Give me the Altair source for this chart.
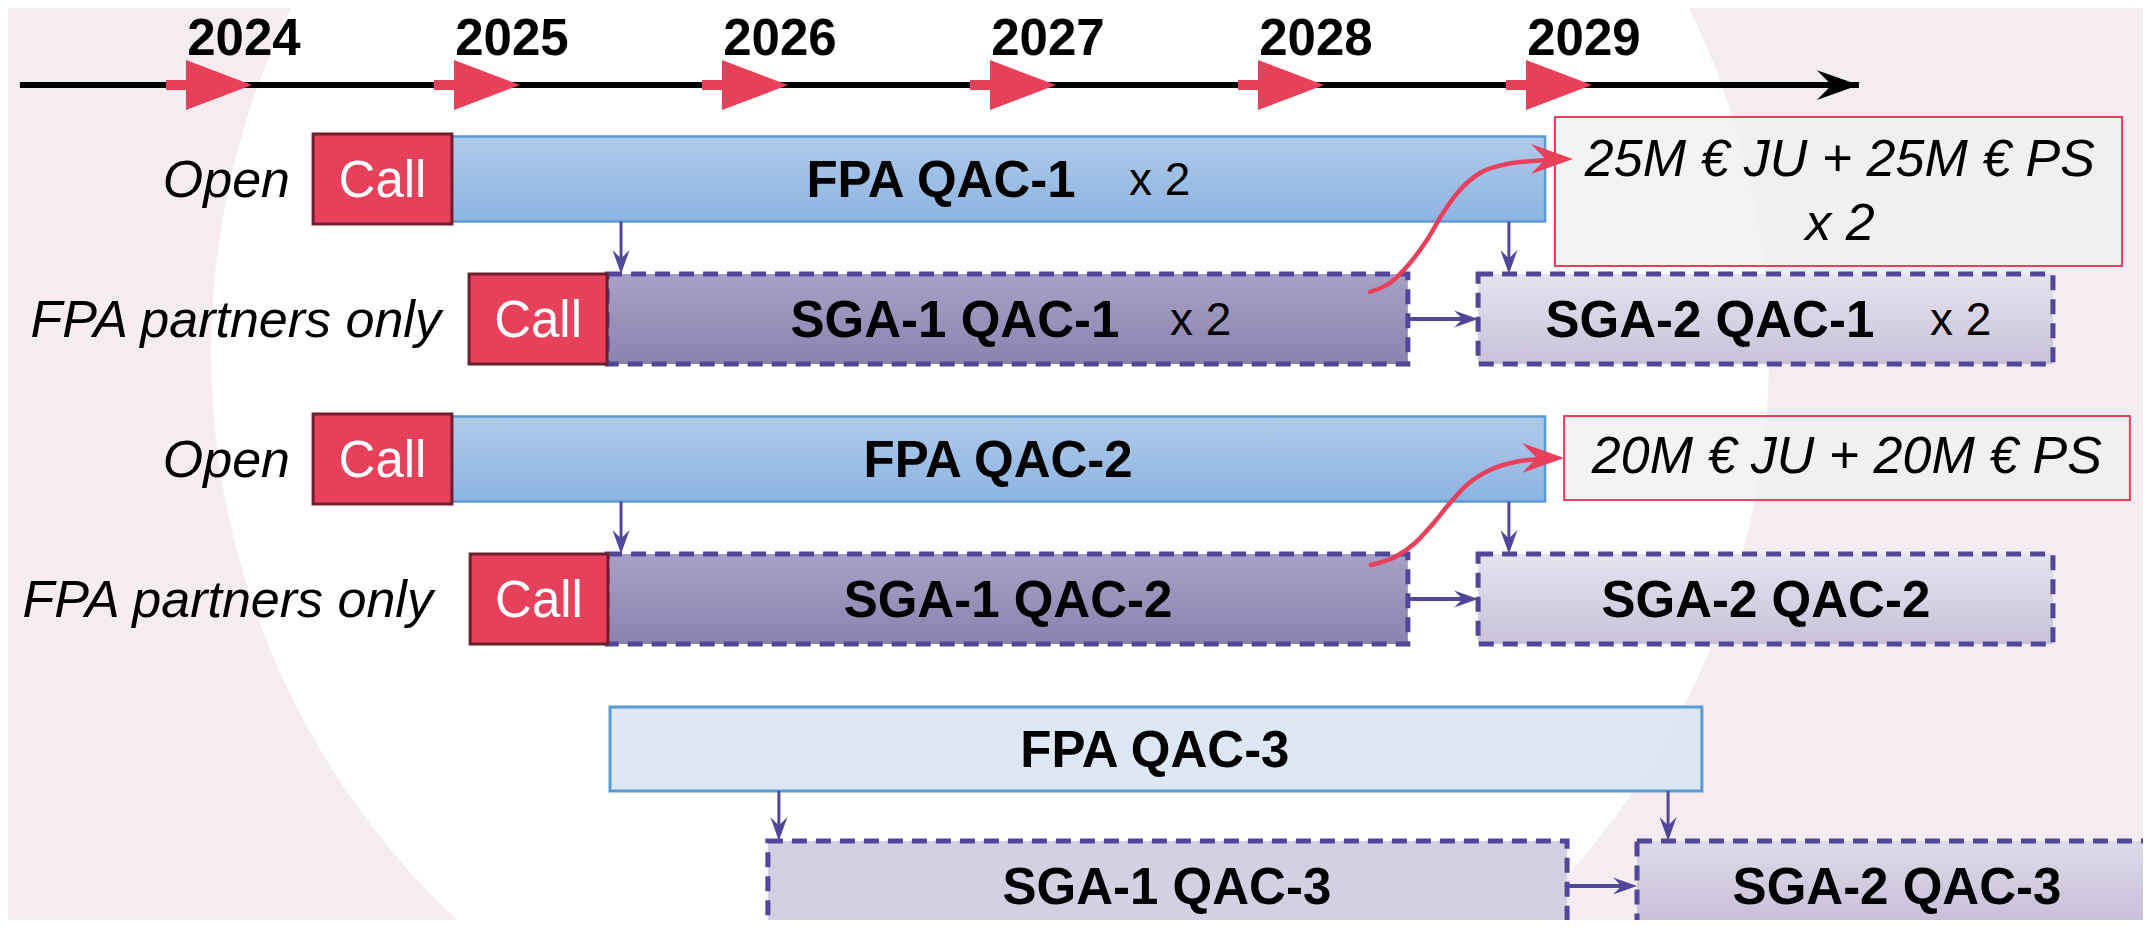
import altair as alt
import pandas as pd

# ---------------- chart frame ----------------
W, H = 2135, 912
X_DOMAIN = [2023.0896, 2031.056]   # time axis (years)
Y_DOMAIN = [-0.2214, 6.2929]       # lanes (row index, top to bottom)
FONT = "Liberation Sans"

BG = "#F5ECF1"
RED = "#E8405A"
PURPLE = "#51479A"
BLUE_EDGE = "#5B9BD5"

# ---------------- data ----------------
years = [2024, 2025, 2026, 2027, 2028, 2029]
year_labels = ["2024", "2025", "2026", "2027", "2028", "2029"]
timeline_start = [2023.134]
timeline_end = [2029.996]
timeline_row = [0.329]
year_label_row = 0.093

# "Call" boxes
call_start = [2024.228, 2024.810, 2024.228, 2024.814]
call_end = [2024.746, 2025.325, 2024.746, 2025.328]
call_row = [1.0, 2.0, 3.0, 4.0]

# lane descriptions
lane_labels = ["Open", "FPA partners only", "Open", "FPA partners only"]
lane_label_x = [2024.142, 2024.705, 2024.142, 2024.675]
lane_label_row = [1.0, 2.0, 3.0, 4.0]

# FPA (open) boxes
fpa_start = [2024.746, 2024.746]
fpa_end = [2028.825, 2028.825]
fpa_row = [1.0, 3.0]

# SGA-1 boxes
sga1_start = [2025.325, 2025.325]
sga1_end = [2028.313, 2028.313]
sga1_row = [2.0, 4.0]

# SGA-2 boxes
sga2_start = [2028.575, 2028.575]
sga2_end = [2030.720, 2030.720]
sga2_row = [2.0, 4.0]

# QAC-3 boxes
fpa3_start, fpa3_end, fpa3_row = [2025.336], [2029.410], [5.071]
sga13_start, sga13_end, sga13_row = [2025.925], [2028.907], [6.05]
sga23_start, sga23_end, sga23_row = [2029.168], [2031.10], [6.05]

# budget boxes
amount_start = [2028.862, 2028.896]
amount_end = [2030.978, 2031.007]
amount_row = [1.089, 2.993]
amount_half = [0.532, 0.30]

amount_lines = ["25M € JU + 25M € PS", "x 2", "20M € JU + 20M € PS"]
amount_x = [2029.925, 2029.925, 2029.951]
amount_line_row = [0.846, 1.303, 2.97]

# box titles
box_labels = ["FPA QAC-1", "SGA-1 QAC-1", "SGA-2 QAC-1", "FPA QAC-2", "SGA-1 QAC-2",
              "SGA-2 QAC-2", "FPA QAC-3", "SGA-1 QAC-3", "SGA-2 QAC-3"]
box_label_x = [2026.571, 2026.623, 2029.440, 2026.784, 2026.821,
               2029.649, 2027.369, 2027.414, 2030.138]
box_label_row = [1.0, 2.0, 2.0, 3.0, 4.0, 4.0, 5.071, 6.05, 6.05]

times_labels = ["x 2", "x 2", "x 2"]
times_x = [2027.272, 2027.425, 2030.261]
times_row = [1.0, 2.0, 2.0]

# vertical connectors (FPA -> SGA)
v_arrow_x = [2025.377, 2028.690, 2025.377, 2028.690, 2025.966, 2029.284]
v_arrow_from = [1.3036, 1.3036, 3.3036, 3.3036, 5.371, 5.371]
v_arrow_to = [1.6786, 1.6786, 3.6786, 3.6786, 5.7286, 5.7286]

# horizontal connectors (SGA-1 -> SGA-2)
h_arrow_row = [2.0, 4.0, 6.05]
h_arrow_from = [2028.313, 2028.313, 2028.907]
h_arrow_to = [2028.575, 2028.575, 2029.168]

# red curved arrows (SGA-1 -> budget)
curve1_x = [2028.172, 2028.246, 2028.321, 2028.384, 2028.444, 2028.507, 2028.582, 2028.683, 2028.780, 2028.843]
curve1_y = [1.807, 1.743, 1.600, 1.436, 1.243, 1.079, 0.957, 0.893, 0.871, 0.864]
curve2_x = [2028.175, 2028.265, 2028.340, 2028.403, 2028.470, 2028.537, 2028.619, 2028.713, 2028.806]
curve2_y = [3.757, 3.700, 3.600, 3.471, 3.314, 3.179, 3.079, 3.021, 3.000]
curve_tip_x = [2028.929, 2028.896]
curve_tip_y = [0.857, 2.993]

# background disc
disc_x, disc_y = [2026.754], [2.236]

# ---------------- styles ----------------
FPA_HALF = 0.3036
SGA_HALF = 0.3214
CALL_HALF = 0.3214
DISC_SIZE = 1558 ** 2
TRI_PATH = "M0,0 L-2,-0.758 L-2,-0.152 L-2.606,-0.152 L-2.606,0.152 L-2,0.152 L-2,0.758 Z"
HEAD_PATH = "M0,0 L-2,-0.71 L-1.3,0 L-2,0.71 Z"


def X(f):
    return alt.X(f, type="quantitative", axis=None,
                 scale=alt.Scale(domain=X_DOMAIN, nice=False, zero=False))


def Y(f):
    return alt.Y(f, type="quantitative", axis=None,
                 scale=alt.Scale(domain=Y_DOMAIN, nice=False, zero=False, reverse=True))


def boxes(starts, ends, rows, half):
    halves = half if isinstance(half, list) else [half] * len(rows)
    return pd.DataFrame({"x": starts, "x2": ends,
                         "y": [r - h for r, h in zip(rows, halves)],
                         "y2": [r + h for r, h in zip(rows, halves)]})


def grad(top, bottom):
    return alt.LinearGradient(gradient="linear", x1=0, x2=0, y1=0, y2=1,
                              stops=[alt.GradientStop(color=top, offset=0),
                                     alt.GradientStop(color=bottom, offset=1)])


def rect_layer(df, **mark):
    return alt.Chart(df).mark_rect(**mark).encode(
        x=X("x"), x2=alt.X2("x2"), y=Y("y"), y2=alt.Y2("y2"))


layers = []

# background disc
layers.append(alt.Chart(pd.DataFrame({"x": disc_x, "y": disc_y})).mark_circle(
    size=DISC_SIZE, color="white", opacity=1).encode(x=X("x"), y=Y("y")))

# timeline
tl = pd.DataFrame({"x": timeline_start, "x2": timeline_end, "y": timeline_row})
layers.append(alt.Chart(tl).mark_rule(color="black", strokeWidth=6).encode(
    x=X("x"), x2=alt.X2("x2"), y=Y("y")))
layers.append(alt.Chart(pd.DataFrame({"x": timeline_end, "y": timeline_row})).mark_point(
    shape=HEAD_PATH, size=1764, filled=True, color="black", opacity=1, strokeWidth=0).encode(
    x=X("x"), y=Y("y")))
yr = pd.DataFrame({"x": years, "y": timeline_row * len(years), "label": year_labels,
                   "ly": [year_label_row] * len(years)})
layers.append(alt.Chart(yr).mark_point(
    shape=TRI_PATH, size=4356, filled=True, color=RED, opacity=1, strokeWidth=0).encode(
    x=X("x"), y=Y("y")))
layers.append(alt.Chart(yr).mark_text(
    font=FONT, fontSize=51, fontWeight="bold", color="black", align="center",
    baseline="alphabetic", dx=-8, dy=3).encode(x=X("x"), y=Y("ly"), text="label:N"))

# boxes
layers.append(rect_layer(boxes(fpa_start, fpa_end, fpa_row, FPA_HALF),
                         fill=grad("#AFCAE9", "#8DB4E2"), stroke=BLUE_EDGE, strokeWidth=2.5))
layers.append(rect_layer(boxes(fpa3_start, fpa3_end, fpa3_row, 0.30),
                         fill="#D9E5F3", fillOpacity=0.9, stroke=BLUE_EDGE, strokeWidth=3))
layers.append(rect_layer(boxes(amount_start, amount_end, amount_row, amount_half),
                         fill="#F0F0F0", fillOpacity=0.8, stroke=RED, strokeWidth=2))
dash = dict(stroke=PURPLE, strokeWidth=5, strokeDash=[15, 9])
layers.append(rect_layer(boxes(sga1_start, sga1_end, sga1_row, SGA_HALF),
                         fill=grad("#A8A1C5", "#8B83B0"), **dash))
layers.append(rect_layer(boxes(sga2_start, sga2_end, sga2_row, SGA_HALF),
                         fill=grad("#E6E3F0", "#C8C1D9"), **dash))
layers.append(rect_layer(boxes(sga13_start, sga13_end, sga13_row, SGA_HALF),
                         fill="#D2CDE2", fillOpacity=0.95, **dash))
layers.append(rect_layer(boxes(sga23_start, sga23_end, sga23_row, SGA_HALF),
                         fill=grad("#DEDAE9", "#C5BCD6"), **dash))
layers.append(rect_layer(boxes(call_start, call_end, call_row, CALL_HALF),
                         fill="#E6405A", stroke="#6E1F2B", strokeWidth=3))

# vertical connectors
va = pd.DataFrame({"x": v_arrow_x, "y": v_arrow_from, "y2": [t - 0.07 for t in v_arrow_to],
                   "tip": v_arrow_to})
layers.append(alt.Chart(va).mark_rule(color=PURPLE, strokeWidth=3).encode(
    x=X("x"), y=Y("y"), y2=alt.Y2("y2")))
layers.append(alt.Chart(va).mark_point(
    shape=HEAD_PATH, size=576, angle=90, filled=True, color=PURPLE, opacity=1, strokeWidth=0).encode(
    x=X("x"), y=Y("tip")))

# horizontal connectors
ha = pd.DataFrame({"x": h_arrow_from, "x2": [t - 0.035 for t in h_arrow_to], "tip": h_arrow_to,
                   "y": h_arrow_row})
layers.append(alt.Chart(ha).mark_rule(color=PURPLE, strokeWidth=4).encode(
    x=X("x"), x2=alt.X2("x2"), y=Y("y")))
layers.append(alt.Chart(ha).mark_point(
    shape=HEAD_PATH, size=576, filled=True, color=PURPLE, opacity=1, strokeWidth=0).encode(
    x=X("tip"), y=Y("y")))

# red curves
cv = pd.DataFrame({
    "x": curve1_x + curve2_x,
    "y": curve1_y + curve2_y,
    "curve": ["c1"] * len(curve1_x) + ["c2"] * len(curve2_x),
    "i": list(range(len(curve1_x))) + list(range(len(curve2_x))),
})
layers.append(alt.Chart(cv).mark_line(
    color=RED, strokeWidth=4.5, interpolate="monotone", strokeCap="round").encode(
    x=X("x"), y=Y("y"), detail="curve:N", order="i:Q"))
layers.append(alt.Chart(pd.DataFrame({"x": curve_tip_x, "y": curve_tip_y})).mark_point(
    shape=HEAD_PATH, size=1764, filled=True, color=RED, opacity=1, strokeWidth=0).encode(
    x=X("x"), y=Y("y")))

# texts
call_txt = pd.DataFrame({"x": [(a + b) / 2 for a, b in zip(call_start, call_end)],
                         "y": call_row, "t": ["Call"] * len(call_row)})
layers.append(alt.Chart(call_txt).mark_text(
    font=FONT, fontSize=51, color="white", align="center", baseline="alphabetic", dy=18.5).encode(
    x=X("x"), y=Y("y"), text="t:N"))

lane = pd.DataFrame({"x": lane_label_x, "y": lane_label_row, "t": lane_labels})
layers.append(alt.Chart(lane).mark_text(
    font=FONT, fontSize=52, fontStyle="italic", color="black", align="right",
    baseline="alphabetic", dy=18.5).encode(x=X("x"), y=Y("y"), text="t:N"))

bl = pd.DataFrame({"x": box_label_x, "y": box_label_row, "t": box_labels})
layers.append(alt.Chart(bl).mark_text(
    font=FONT, fontSize=51, fontWeight="bold", color="black", align="center",
    baseline="alphabetic", dy=18).encode(x=X("x"), y=Y("y"), text="t:N"))

tx = pd.DataFrame({"x": times_x, "y": times_row, "t": times_labels})
layers.append(alt.Chart(tx).mark_text(
    font=FONT, fontSize=46, color="black", align="left",
    baseline="alphabetic", dy=16.5).encode(x=X("x"), y=Y("y"), text="t:N"))

am = pd.DataFrame({"x": amount_x, "y": amount_line_row, "t": amount_lines})
layers.append(alt.Chart(am).mark_text(
    font=FONT, fontSize=52, fontStyle="italic", color="black", align="center",
    baseline="alphabetic", dy=18.6).encode(x=X("x"), y=Y("y"), text="t:N"))

chart = alt.layer(*layers).properties(
    width=W, height=H, padding=0, autosize="none", background=BG
).configure_view(stroke=None)

chart.save("out.html", embed_options={"renderer": "svg", "actions": False})
